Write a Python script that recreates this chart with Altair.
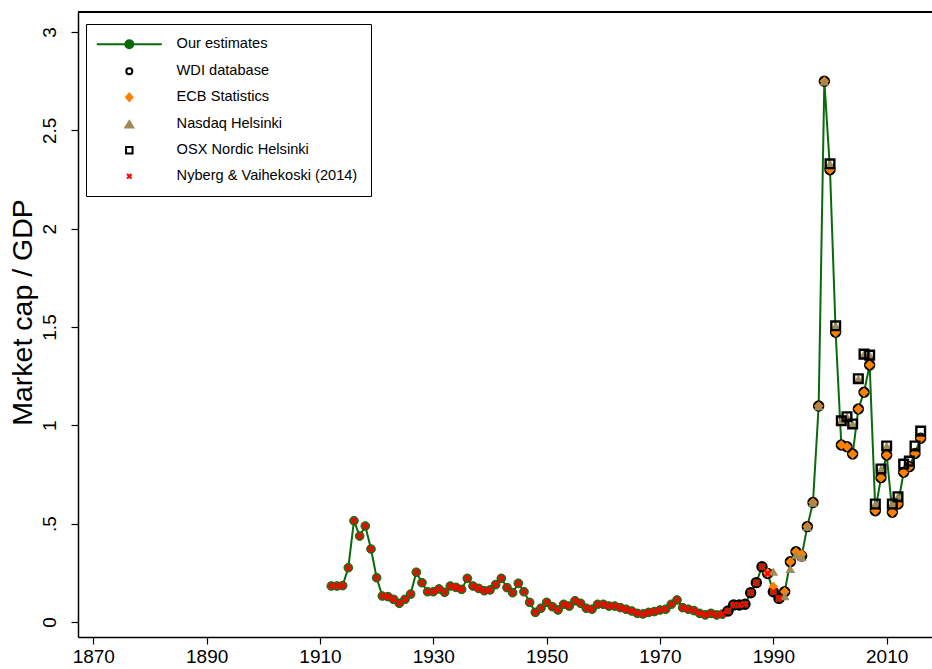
import altair as alt
import pandas as pd

# ---------------- data ----------------
years = list(range(1912, 2017))
estimates = [0.183, 0.183, 0.185, 0.276, 0.515, 0.437, 0.488, 0.371, 0.225, 0.132,  # 1912-1921
             0.129, 0.115, 0.095, 0.115, 0.142, 0.253, 0.200, 0.154, 0.154, 0.168,  # 1922-1931
             0.151, 0.183, 0.176, 0.166, 0.222, 0.183, 0.171, 0.159, 0.163, 0.190,  # 1932-1941
             0.222, 0.175, 0.149, 0.197, 0.154, 0.100, 0.049, 0.070, 0.100, 0.078,  # 1942-1951
             0.061, 0.090, 0.081, 0.108, 0.095, 0.070, 0.065, 0.090, 0.090, 0.081,  # 1952-1961
             0.081, 0.073, 0.065, 0.056, 0.044, 0.041, 0.049, 0.053, 0.061, 0.065,  # 1962-1971
             0.090, 0.112, 0.073, 0.065, 0.058, 0.044, 0.036, 0.044, 0.036, 0.040,  # 1972-1981
             0.056, 0.086, 0.086, 0.090, 0.149, 0.200, 0.281, 0.247, 0.154, 0.120,  # 1982-1991
             0.154, 0.306, 0.357, 0.336, 0.485, 0.608, 1.098, 2.750, 2.300, 1.473,  # 1992-2001
             0.900, 0.891, 0.854, 1.083, 1.168, 1.307, 0.566, 0.734, 0.849, 0.558,  # 2002-2011
             0.600, 0.761, 0.790, 0.857, 0.934]                                     # 2012-2016

# Nyberg & Vaihekoski (2014): 1912-1991, markers sit on the estimates
nyberg_years = list(range(1912, 1992))
nyberg_values = estimates[0:80]

# WDI database: 1982-2016, markers sit on the estimates
wdi_years = list(range(1982, 2017))
wdi_values = estimates[70:]

ecb_years = [1989, 1990] + list(range(1992, 2017))
ecb_values = [0.250, 0.180,
              0.154, 0.306, 0.357, 0.345, 0.485, 0.608, 1.098, 2.750, 2.300, 1.473,
              0.900, 0.891, 0.854, 1.083, 1.168, 1.307, 0.566, 0.734, 0.849, 0.558,
              0.600, 0.761, 0.790, 0.857, 0.934]

nasdaq_years = [1990] + list(range(1992, 2013))
nasdaq_values = [0.256,
                 0.132, 0.270, 0.340, 0.330, 0.485, 0.608, 1.098, 2.750, 2.330, 1.506,
                 1.023, 1.044, 1.007, 1.237, 1.362, 1.357, 0.600, 0.778, 0.895, 0.600,
                 0.637]

osx_years = list(range(2000, 2017))
osx_values = [2.330, 1.506, 1.023, 1.044, 1.007, 1.237, 1.362, 1.357, 0.600,
              0.778, 0.895, 0.600, 0.637, 0.803, 0.818, 0.895, 0.971]

series_names = ["Our estimates", "WDI database", "ECB Statistics",
                "Nasdaq Helsinki", "OSX Nordic Helsinki", "Nyberg & Vaihekoski (2014)"]

x_ticks = [1870, 1890, 1910, 1930, 1950, 1970, 1990, 2010]
y_ticks = [0, 0.5, 1, 1.5, 2, 2.5, 3]

# ---------------- styling ----------------
FONT = "Liberation Sans"
GREEN = "#0A6A0A"
GREEN_FILL = "#177817"
ORANGE = "#FF8000"
OLIVE = "#A08A55"
RED = "#FF0000"

W, H = 854, 625

df_est = pd.DataFrame({"year": years, "value": estimates})
df_nyb = pd.DataFrame({"year": nyberg_years, "value": nyberg_values})
df_wdi = pd.DataFrame({"year": wdi_years, "value": wdi_values})
df_ecb = pd.DataFrame({"year": ecb_years, "value": ecb_values})
df_nas = pd.DataFrame({"year": nasdaq_years, "value": nasdaq_values})
df_osx = pd.DataFrame({"year": osx_years, "value": osx_values})
df_leg = pd.DataFrame({"series": series_names})

x_enc = alt.X("year:Q",
              scale=alt.Scale(domain=[1867.3, 2018.0], nice=False, zero=False),
              axis=alt.Axis(values=x_ticks, format="d", title=None, grid=False,
                            labelFont=FONT, labelFontSize=19, labelColor="black",
                            labelPadding=3, labelFlush=False,
                            tickSize=7, tickWidth=1.2, tickColor="black",
                            domainColor="black", domainWidth=1.5))
y_enc = alt.Y("value:Q",
              scale=alt.Scale(domain=[-0.0763, 3.1017], nice=False, zero=False),
              axis=alt.Axis(values=y_ticks, title="Market cap / GDP", grid=False,
                            labelExpr="datum.value == 0.5 ? '.5' : format(datum.value, '~g')",
                            labelFont=FONT, labelFontSize=19, labelColor="black",
                            labelAngle=270, labelAlign="center", labelBaseline="bottom",
                            labelPadding=12, labelFlush=False,
                            tickSize=7, tickWidth=1.2, tickColor="black",
                            domainColor="black", domainWidth=1.5,
                            titleFont=FONT, titleFontSize=28.5, titleFontWeight="normal",
                            titleColor="black", titleAngle=270, titleAlign="center",
                            titleBaseline="middle", titleX=-56, titleY=300))

line = alt.Chart(df_est).mark_line(color=GREEN, strokeWidth=2).encode(x=x_enc, y=y_enc)
dots = alt.Chart(df_est).mark_point(shape="circle", filled=True, fill=GREEN_FILL,
                                    stroke=GREEN, strokeWidth=1, size=75, opacity=1
                                    ).encode(x=x_enc, y=y_enc)
wdi = alt.Chart(df_wdi).mark_point(shape="circle", filled=False, stroke="black",
                                   strokeWidth=2.2, size=85, opacity=1
                                   ).encode(x=x_enc, y=y_enc)
ecb = alt.Chart(df_ecb).mark_point(shape="diamond", filled=True, fill=ORANGE,
                                   size=95, opacity=1).encode(x=x_enc, y=y_enc)
nas = alt.Chart(df_nas).mark_point(shape="triangle-up", filled=True, fill=OLIVE,
                                   size=95, opacity=1).encode(x=x_enc, y=y_enc)
osx = alt.Chart(df_osx).mark_point(shape="square", filled=False, stroke="black",
                                   strokeWidth=2.4, size=75, opacity=1
                                   ).encode(x=x_enc, y=y_enc)
nyb = alt.Chart(df_nyb).mark_point(shape="M-1,-1L1,1M-1,1L1,-1", filled=False,
                                   stroke=RED, strokeWidth=2.2, size=36, opacity=1
                                   ).encode(x=x_enc, y=y_enc)

# legend (drawn by Vega's legend from scales; the layer itself draws no marks)
leg_paths = [
    "M-6.5,0L6.5,0M-0.8,0A0.8,0.8,0,1,0,0.8,0A0.8,0.8,0,1,0,-0.8,0Z",
    "M-0.6,0A0.6,0.6,0,1,0,0.6,0A0.6,0.6,0,1,0,-0.6,0Z",
    "M0,-0.75L0.65,0L0,0.75L-0.65,0Z",
    "M0,-0.65L0.8,0.65L-0.8,0.65Z",
    "M-0.65,-0.65L0.65,-0.65L0.65,0.65L-0.65,0.65Z",
    "M-0.45,-0.45L0.45,0.45M-0.45,0.45L0.45,-0.45",
]
leg_fills = [GREEN, "white", ORANGE, OLIVE, "white", "white"]
leg_strokes = [GREEN, "black", ORANGE, OLIVE, "black", RED]

legend_def = alt.Legend(title=None, orient="none", legendX=8, legendY=12,
                        direction="vertical", padding=13, symbolOffset=23,
                        labelOffset=40, rowPadding=10, symbolSize=100,
                        symbolStrokeWidth=2, labelFont=FONT, labelFontSize=14.6,
                        labelColor="black", labelLimit=400,
                        fillColor="white", strokeColor="black", cornerRadius=0)

leg = alt.Chart(df_leg).mark_point(filled=True, strokeWidth=2, opacity=1).encode(
    shape=alt.Shape("series:N", scale=alt.Scale(domain=series_names, range=leg_paths),
                    legend=legend_def),
    fill=alt.Fill("series:N", scale=alt.Scale(domain=series_names, range=leg_fills),
                  legend=legend_def),
    stroke=alt.Stroke("series:N", scale=alt.Scale(domain=series_names, range=leg_strokes),
                      legend=legend_def),
).transform_filter("datum.series == 'none'")

top_border = alt.Chart(df_est).mark_rule(color="black", strokeWidth=1.5).encode(
    x=alt.value(0), x2=alt.value(W), y=alt.value(0))

chart = alt.layer(line, dots, wdi, ecb, nas, osx, nyb, top_border, leg).properties(
    width=W, height=H,
    autosize=alt.AutoSizeParams(type="none"),
    padding={"left": 78, "top": 12, "right": 0, "bottom": 32},
    background="white",
).configure_view(stroke=None).configure_legend(
    symbolFillColor="white", symbolStrokeColor="black", symbolStrokeWidth=2
)

chart.save("out.html", embed_options={"renderer": "svg", "actions": False})
